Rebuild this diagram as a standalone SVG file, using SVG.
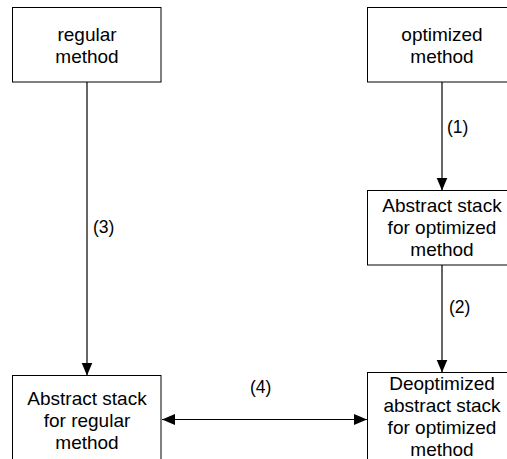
<svg xmlns="http://www.w3.org/2000/svg" width="507" height="459" viewBox="0 0 507 459">
<style>
.box{fill:#fff;stroke:#000;stroke-width:1}
.t{font-family:"Liberation Sans",Arial,sans-serif;font-size:19px;fill:#000;text-anchor:middle}
.l{font-family:"Liberation Sans",Arial,sans-serif;font-size:17.5px;fill:#000}
.c{stroke:#000;stroke-width:1.2;fill:none}
</style>
<defs>
<marker id="ah" markerUnits="userSpaceOnUse" markerWidth="14" markerHeight="12" refX="13" refY="6" orient="auto-start-reverse">
<path d="M0,0.5 L13,6 L0,11.5 z" fill="#000"/>
</marker>
</defs>
<rect width="507" height="459" fill="#fff"/>
<g id="connectors">
<line class="c" x1="87" y1="82" x2="87" y2="375.5" marker-end="url(#ah)"/>
<line class="c" x1="442" y1="82" x2="442" y2="190.5" marker-end="url(#ah)"/>
<line class="c" x1="442" y1="265" x2="442" y2="372.5" marker-end="url(#ah)"/>
<line class="c" x1="162" y1="419.5" x2="367" y2="419.5" marker-start="url(#ah)" marker-end="url(#ah)"/>
<text class="l" x="93" y="233">(3)</text>
<text class="l" x="447" y="133">(1)</text>
<text class="l" x="449" y="313">(2)</text>
<text class="l" x="250" y="393">(4)</text>
</g>
<g id="regular-method">
<rect class="box" x="12.5" y="7.5" width="148.5" height="74.5"/>
<text class="t" x="87" y="40.5">regular</text>
<text class="t" x="87" y="62.5">method</text>
</g>
<g id="optimized-method">
<rect class="box" x="367.5" y="7.5" width="148.5" height="74.5"/>
<text class="t" x="442" y="40.5">optimized</text>
<text class="t" x="442" y="62.5">method</text>
</g>
<g id="abstract-optimized">
<rect class="box" x="367.5" y="190.5" width="148.5" height="74.5"/>
<text class="t" x="442" y="211.5">Abstract stack</text>
<text class="t" x="442" y="233.5">for optimized</text>
<text class="t" x="442" y="255.5">method</text>
</g>
<g id="abstract-regular">
<rect class="box" x="12.5" y="375.5" width="148.5" height="100"/>
<text class="t" x="87" y="404.5">Abstract stack</text>
<text class="t" x="87" y="426.5">for regular</text>
<text class="t" x="87" y="448.5">method</text>
</g>
<g id="deoptimized">
<rect class="box" x="367.5" y="372.5" width="148.5" height="100"/>
<text class="t" x="442" y="390">Deoptimized</text>
<text class="t" x="442" y="412">abstract stack</text>
<text class="t" x="442" y="434">for optimized</text>
<text class="t" x="442" y="456">method</text>
</g>
</svg>
